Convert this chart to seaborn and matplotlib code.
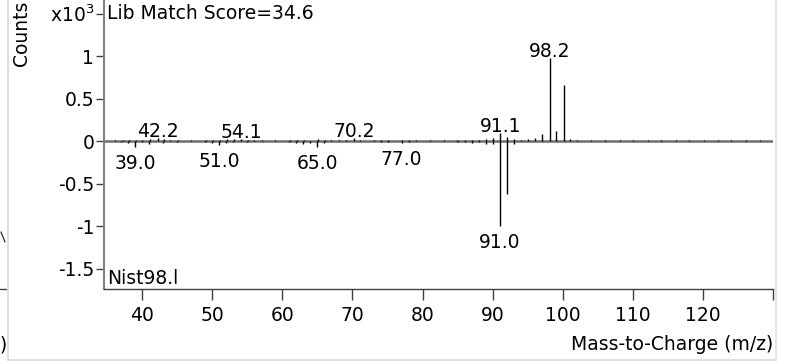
import matplotlib
matplotlib.use('Agg')
import matplotlib.pyplot as plt
import seaborn as sns
from matplotlib.lines import Line2D

# sample spectrum (upper trace), counts x10^3
sample_mz = [36.1, 37.2, 38.1, 39.1, 40.0, 41.1, 42.2, 43.1, 44.0, 45.1, 46.9, 49.1,
             50.1, 51.1, 52.1, 53.1, 54.1, 55.1, 56.0, 57.1, 58.9, 61.1, 62.1, 63.1,
             65.1, 66.1, 67.0, 68.1, 69.1, 70.2, 71.1, 73.1, 74.1, 75.0, 77.1, 78.1,
             79.1, 81.0, 83.1, 84.9, 86.1, 87.1, 88.0, 89.1, 90.1, 91.1, 92.1, 93.1,
             94.1, 95.0, 96.1, 97.1, 98.2, 99.1, 100.2, 101.1, 102.1, 104.0, 106.1,
             108.1, 110.0, 112.1, 114.0, 116.1, 118.0, 120.1, 122.1, 124.0, 126.1, 128.1]
sample_int = [0.010, 0.008, 0.012, 0.015, 0.010, 0.018, 0.030, 0.020, 0.010, 0.012, 0.008, 0.010,
              0.012, 0.015, 0.018, 0.020, 0.028, 0.015, 0.010, 0.012, 0.008, 0.010, 0.012, 0.015,
              0.020, 0.015, 0.010, 0.012, 0.015, 0.030, 0.012, 0.010, 0.012, 0.008, 0.015, 0.012,
              0.010, 0.008, 0.010, 0.008, 0.010, 0.012, 0.015, 0.020, 0.030, 0.100, 0.050, 0.020,
              0.015, 0.020, 0.030, 0.080, 0.980, 0.120, 0.660, 0.025, 0.010, 0.008, 0.010,
              0.008, 0.010, 0.008, 0.010, 0.008, 0.010, 0.008, 0.010, 0.008, 0.010, 0.008]

# library spectrum (lower trace, drawn downwards)
lib_mz = [37.0, 38.0, 39.0, 40.0, 41.0, 43.0, 45.0, 49.0, 50.0, 51.0, 52.0, 53.0,
          55.0, 61.0, 62.0, 63.0, 64.0, 65.0, 66.0, 74.0, 75.0, 77.0, 78.0, 85.0,
          86.0, 87.0, 88.0, 89.0, 90.0, 91.0, 92.0, 93.0]
lib_int = [0.010, 0.020, 0.070, 0.015, 0.035, 0.020, 0.010, 0.015, 0.025, 0.045, 0.025, 0.015,
           0.010, 0.015, 0.020, 0.030, 0.020, 0.070, 0.020, 0.010, 0.010, 0.020, 0.010, 0.010,
           0.015, 0.020, 0.015, 0.040, 0.030, 1.000, 0.620, 0.030]

sample_labels = [42.2, 54.1, 70.2, 91.1, 98.2]
lib_labels = [39.0, 51.0, 65.0, 77.0, 91.0]

x_ticks = [40, 50, 60, 70, 80, 90, 100, 110, 120, 130]
x_ticklabels = ['40', '50', '60', '70', '80', '90', '100', '110', '120', '']
y_ticks = [-1.5, -1, -0.5, 0, 0.5, 1, 1.5]
y_ticklabels = ['-1.5', '-1', '-0.5', '0', '0.5', '1', r'x10$^3$']

sns.set_style('white')
plt.rcParams['font.family'] = ['DejaVu Sans']
plt.rcParams['axes.unicode_minus'] = False
plt.rcParams['mathtext.default'] = 'regular'
plt.rcParams['text.color'] = 'black'
plt.rcParams['xtick.labelcolor'] = 'black'
plt.rcParams['ytick.labelcolor'] = 'black'
fs = 13.5

fig = plt.figure(figsize=(7.89, 3.64), dpi=100)
ax = fig.add_axes([104 / 789, 1 - 289 / 364, 669 / 789, 289 / 364])
ax.set_facecolor('none')

# baseline
ax.axhline(0, color='#6e6e6e', lw=1.8, zorder=1)

ax.vlines(sample_mz, 0, sample_int, color='black', lw=1.0, zorder=2)
ax.vlines(lib_mz, 0, [-v for v in lib_int], color='black', lw=1.0, zorder=2)

for m in sample_labels:
    v = sample_int[sample_mz.index(m)]
    ax.annotate(f'{m:.1f}', (m, v), xytext=(0, 1), textcoords='offset pixels',
                ha='center', va='baseline', fontsize=fs, color='black')
for m in lib_labels:
    v = lib_int[lib_mz.index(m)]
    ax.annotate(f'{m:.1f}', (m, -v), xytext=(0, -7), textcoords='offset pixels',
                ha='center', va='top', fontsize=fs, color='black')

ax.set_xlim(34.55, 130)
ax.set_ylim(-1.741, 1.659)
ax.set_xticks(x_ticks)
ax.set_xticklabels(x_ticklabels, fontsize=fs)
ax.set_yticks(y_ticks)
ax.set_yticklabels(y_ticklabels, fontsize=fs)
ax.tick_params(axis='x', direction='out', length=8, width=1, color='#404040', pad=4,
               bottom=True, labelcolor='black')
ax.tick_params(axis='y', direction='out', length=6, width=1, color='#404040', pad=1,
               left=True, labelcolor='black')

for s in ['top', 'right']:
    ax.spines[s].set_visible(False)
ax.spines['left'].set_color('#808080')
ax.spines['left'].set_linewidth(1.5)
ax.spines['bottom'].set_color('#404040')
ax.spines['bottom'].set_linewidth(1.0)

ax.text(0.004, 0.985, 'Lib Match Score=34.6', transform=ax.transAxes,
        ha='left', va='top', fontsize=fs, color='black')
ax.text(0.004, 0.005, 'Nist98.l', transform=ax.transAxes,
        ha='left', va='bottom', fontsize=fs, color='black')

fig.text(773 / 789, 1 - 345 / 364, 'Mass-to-Charge (m/z)', ha='right', va='center',
         fontsize=fs, color='black')
fig.text(22 / 789, 0.998, 'Counts', rotation=90, ha='center', va='top', fontsize=fs,
         color='black')

# frame remnants of neighbouring panel
fig.add_artist(Line2D([8 / 789, 8 / 789], [1 - 360 / 364, 1], color='#d8d8d8', lw=1.2))
fig.add_artist(Line2D([776 / 789, 776 / 789], [1 - 360 / 364, 1], color='#e2e2e2', lw=1.2))
fig.add_artist(Line2D([8 / 789, 776 / 789], [1 - 360 / 364, 1 - 360 / 364], color='#d8d8d8', lw=1.2))
fig.add_artist(Line2D([0, 6 / 789], [1 - 289 / 364, 1 - 289 / 364], color='#404040', lw=1))
fig.add_artist(Line2D([1 / 789, 5 / 789], [1 - 232 / 364, 1 - 242 / 364], color='#404040', lw=1))
fig.text(0, 1 - 345 / 364, ')', ha='left', va='center', fontsize=fs, color='black')

fig.savefig('out.png', dpi=100)
